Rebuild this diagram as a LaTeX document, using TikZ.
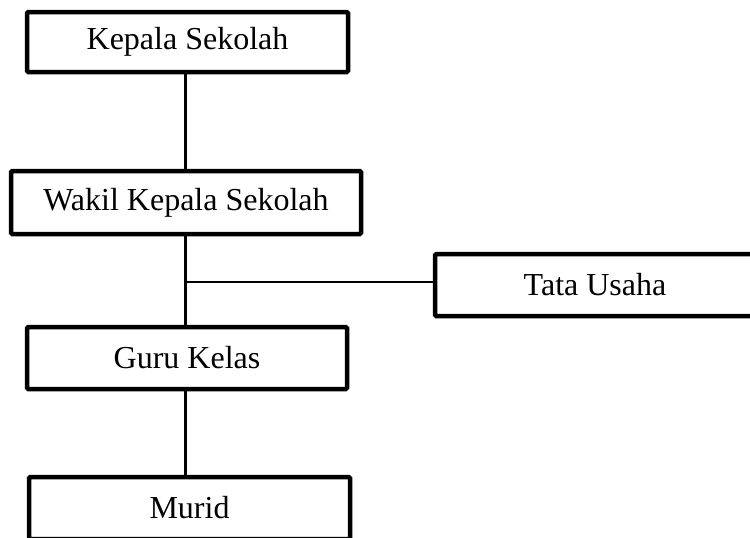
\documentclass[tikz,border=0pt]{standalone}
\usepackage{fontspec}
\setmainfont{Liberation Serif}
\begin{document}
\begin{tikzpicture}[x=1pt,y=-1pt,
  orgbox/.style={draw=black,line width=4.5pt,fill=white,rounded corners=1.2pt,inner sep=0pt,
    minimum height=62pt,font=\fontsize{32}{36}\selectfont,text=black},
  vline/.style={draw=black,line width=3pt},
  hline/.style={draw=black,line width=1.6pt}]
\useasboundingbox (0,0) rectangle (750,538);
\coordinate (vx) at (185,0);
\coordinate (br) at (185,282);
\node[orgbox,minimum width=321pt,minimum height=60pt] (kepala) at (187.5,42) {Kepala Sekolah};
\node[orgbox,minimum width=350pt,minimum height=63pt] (wakil) at (186,202.5) {Wakil Kepala Sekolah};
\node[orgbox,minimum width=320pt] (tata) at (595,285) {Tata Usaha};
\node[orgbox,minimum width=320pt] (guru) at (187,358) {Guru Kelas};
\node[orgbox,minimum width=321pt] (murid) at (189.5,508) {Murid};
\draw[vline] (kepala.south -| vx) -- (wakil.north -| vx);
\draw[vline] (wakil.south -| vx) -- (guru.north -| vx);
\draw[vline] (guru.south -| vx) -- (murid.north -| vx);
\draw[hline] (br) -- (br -| tata.west);
\end{tikzpicture}
\end{document}
